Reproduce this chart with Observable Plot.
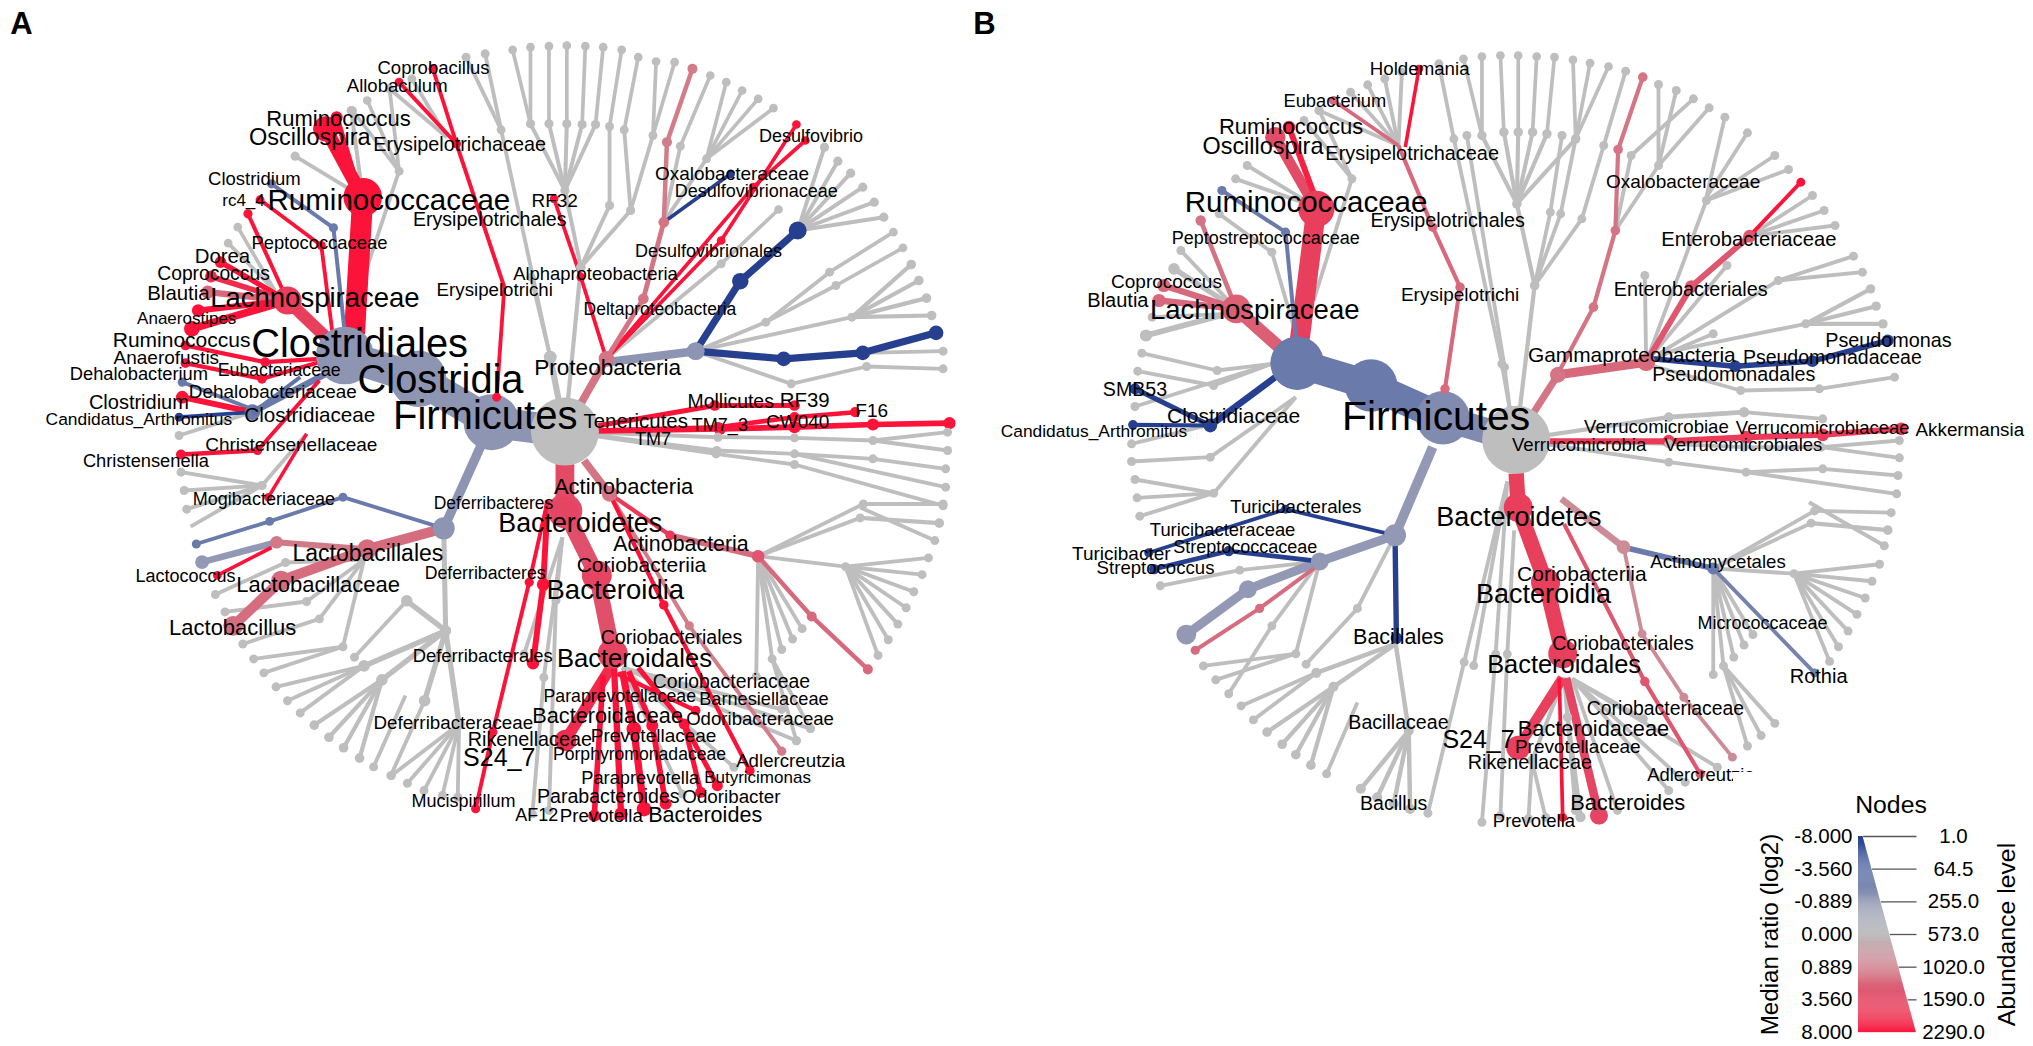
<!DOCTYPE html>
<html><head><meta charset="utf-8">
<style>html,body{margin:0;padding:0;background:#fff;width:2033px;height:1046px;overflow:hidden;font-family:"Liberation Sans",Arial,sans-serif}
#chart{position:absolute;left:0;top:0}#legend{position:absolute;left:1733px;top:772px;background:#fff}</style>
<script src="https://cdn.jsdelivr.net/npm/d3@7"></script>
<script src="https://cdn.jsdelivr.net/npm/@observablehq/plot@0.6"></script>
</head><body><div id="chart"></div><div id="legend"></div>
<script>
// Legend levels
const legendRatio=[-8,-3.56,-0.889,0,0.889,3.56,8];
const ratioText=["-8.000","-3.560","-0.889","0.000","0.889","3.560","8.000"];
const abundText=["1.0","64.5","255.0","573.0","1020.0","1590.0","2290.0"];
const ratioColors=["#26408f","#5f72a8","#959bb5","#bebebe","#d07f8c","#e34b66","#fb1339"];

// Panel A. fans: [abundance, hubX, hubY, [leafX, leafY, ...]]; chains: [ratio, abundance, x,y, x,y ...]; big nodes: [ratio, abundance, x, y]
const fansAUpper=[
[30,885,1293,[862,1070]],[5,862,1070,[785,388,832,830]],[5,785,388,[730,170,760,160]],
[8,885,1293,[910,800]],[6,910,800,[885,570,955,615,988,630]],
[6,885,570,[831,370,860,370,888,370,912,372,933,372]],
[4,831,370,[803,148,831,140]],[4,860,370,[860,137]],[4,888,370,[888,135]],[4,912,372,[917,137]],[4,933,372,[945,140]],
[5,955,615,[955,378]],[4,955,378,[974,148]],[5,988,630,[978,388,1023,405]],[4,978,388,[1000,170]],[4,1023,405,[1028,183,1057,185]],
[5,1040,665,[1066,437,1107,475]],[4,1066,437,[1113,225]],[4,1107,475,[1138,245,1163,270,1188,295,1212,323]],
[5,950,1075,[1130,790]],[4,1130,790,[1220,627]],
[6,1250,690,[1292,440,1313,482,1333,518,1352,560,1370,605,1385,650]],
[5,1090,1052,[1200,965,1335,950,1240,1150]],[5,1200,965,[1300,815,1310,855]],[4,1300,815,[1400,695]],[4,1310,855,[1415,742]],
[8,1335,950,[1428,792,1440,840,1452,893,1460,945]],
[5,1240,1150,[1358,1098]],[5,1352,1057,[1478,1052]],[5,1358,1098,[1478,1105]],
[6,885,1293,[1125,1310,1123,1350,1122,1360]],[5,1125,1310,[1245,1312]],[5,1245,1312,[1368,1320]],[5,1368,1320,[1485,1295,1485,1350]],
[5,1123,1350,[1245,1360]],[5,1245,1360,[1368,1375,1482,1460]],[5,1368,1375,[1482,1405]],[5,1122,1360,[1245,1392]],[5,1245,1392,[1478,1515]],
// upper left greys
[6,568,590,[462,467,550,330]],[5,540,1000,[625,512]],[4,625,512,[575,300,552,330,610,265]],[5,700,410,[645,235,610,265]],
[4,430,870,[372,680,357,728]],
[5,395,1235,[280,1305]],[5,480,1300,[410,1455]],[5,410,1455,[283,1415,288,1470,292,1525]]
];
const fansALower=[
[5,1188,160,[1353,10,1348,50,1325,190,1185,505,1210,455,1225,428,1242,398,1257,368]],
[5,1353,10,[1478,10]],[8,1348,50,[1472,65]],[5,1348,20,[1465,115]],
[5,1325,190,[1455,165,1445,213,1432,262,1420,308,1407,355,1392,400,1376,445]],
[5,1210,455,[1270,655,1248,690]],
[16,695,80,[698,374]],[20,698,374,[570,475,598,515,637,288,665,575,719,642]],
[5,637,288,[555,450]],[5,570,475,[432,535,450,575,470,610]],
[8,598,515,[492,645,515,680,538,710,563,740]],[5,665,575,[612,790]],[5,635,560,[585,765]],
[5,719,642,[613,790,638,812,664,833,693,847,717,852]],
[5,570,170,[537,420,500,340,480,290,447,178]],[5,537,420,[397,455,413,495]],[5,500,340,[380,412]],[5,480,290,[352,320]],[5,447,178,[337,270]],
[5,298,75,[410,-45]],
[5,881,106,[821,441,852,508,871,287]],[5,852,508,[834,900]],[5,871,287,[860,890]],
[5,975,480,[1270,655,1248,690,1225,600,1069,843,1150,766]]
];
const chainsAUpper=[
[-1.3,1500,885,1293,770,1265,655,1135,540,1065],
[8,640,555,1000,568,590],[8,230,568,590,510,385],[8,25,560,560,527,350],
[8,6,950,1075,910,830,868,595],[8,6,950,1075,1130,720,1248,372],[8,6,950,1075,1180,560,1262,420],
[1.4,60,885,1293,950,1075],[1.4,16,950,1075,1008,895,1040,665],[1.1,12,1040,665,1045,425,1085,205],
[-8,6,1040,665,1145,520],
[-1.3,80,950,1085,1090,1052],[-8,50,1090,1052,1160,842,1250,690],[-8,50,1090,1052,1228,1075,1352,1057,1467,997],
[-3,8,540,1000,522,682,425,550],
[8,7,520,990,503,735,407,598],
[4.5,190,540,1065,450,900],[8,8,450,900,388,640],[8,22,450,900,345,785],[6,24,450,900,330,828],[2,35,450,900,325,875],[8,30,450,900,310,930],[8,60,450,900,300,985],
[8,10,500,1075,415,1085,290,1035],[8,10,500,1085,410,1135,290,1088],
[-3.5,8,470,1130,400,1230],[-3,8,400,1230,285,1145],[-3,35,510,1120,395,1235],[8,30,395,1235,285,1190],[-8,7,395,1235,280,1250],
[8,8,500,1140,403,1350],[8,12,403,1350,283,1362],[8,5,480,1300,420,1490],
[8,7,715,430,625,245],[8,7,715,430,678,205],[8,8,790,860,715,430],[8,7,790,860,778,1190],
[8,16,885,1293,1120,1215,1245,1215],[8,13,885,1293,1125,1280,1245,1250,1340,1235],[8,26,885,1293,1128,1285,1245,1280,1368,1272,1488,1268],
[-1.3,100,770,1265,695,1580],
[3.7,500,885,1293,885,1530],[1.4,60,915,1380,955,1480],[5,10,955,1480,1050,1600],[1.8,30,1050,1600,1188,1660],
[8,30,858,1500,851,1741,835,1967],[8,8,858,1500,829,1735,772,2165,745,2385]
];
const chainsALower=[
[1.8,120,695,80,575,140,440,230,365,360],
[-3,7,695,80,537,-10,422,60,307,125],
[1.2,30,575,140,433,120],[-1,40,433,120,316,177],[8,6,425,135,340,215],
[3.3,350,885,30,935,215,960,440],
[2,12,1188,160,1272,333,1360,485],
[1.0,8,955,-20,1080,360,1225,720],[8,10,955,-20,1040,300,1175,776],
[6,150,960,470,886,689],[8,25,945,500,931,905],[8,35,962,480,973,900],[8,50,975,490,993,656,1009,886],[8,25,985,490,1022,646,1043,871],[8,18,1000,480,1072,642,1098,838],[8,18,1072,642,1124,819],[8,10,967,498,1090,603]
];
const nodesA=[[0,2290,885,1293],[-1.3,1250,770,1265],[-1.3,1500,655,1135],[-1.3,1600,540,1065],
[8,562,568,590],[8,200,510,385],[5,300,450,900],[-1.3,90,1090,1052],[-8,90,1250,690],[-8,70,1160,842],
[-1.3,160,695,1580],[4,280,885,1530],[4,320,935,1715],[4,330,960,1940],[6,120,886,2189],[3,25,1188,1660],[-3,60,395,1235]];
const labelsAUpper=[["Coprobacillus",679,202,18.5],["Allobaculum",622,258,18.5],["Ruminococcus",530,355,22],["Oscillospira",485,412,23.5],["Erysipelotrichaceae",720,432,19.8],["Desulfovibrio",1271,408,18],["Oxalobacteraceae",1147,521,19],["Desulfovibrionaceae",1185,573,18],["Clostridium",398,537,18.5],["rc4_4",381,601,17],["Ruminococcaceae",609,600,29.5],["RF32",869,602,19],["Erysipelotrichales",767,658,19.6],["Peptococcaceae",500,728,18.4],["Desulfovibrionales",1110,752,18],["Dorea",348,768,20.4],["Coprococcus",334,820,19.3],["Alphaproteobacteria",933,820,18.4],["Erysipelotrichi",775,870,18.7],["Blautia",279,878,20.4],["Lachnospiraceae",493,893,27.5],["Deltaproteobacteria",1034,928,17.5],["Anaerostipes",292,955,17],["Ruminococcus",284,1020,21],["Clostridiales",563,1032,39.8],["Anaerofustis",260,1072,19],["Proteobacteria",952,1103,22.6],["Dehalobacterium",217,1120,18.3],["Eubacteriaceae",437,1110,17.7],["Clostridia",690,1138,39.8],["Dehalobacteriaceae",427,1173,18.9],["Clostridium",217,1205,20],["Mollicutes",1145,1205,19.4],["RF39",1261,1200,20.4],["F16",1366,1230,19],["Firmicutes",760,1248,40],["Tenericutes",996,1262,20.4],["Clostridiaceae",485,1245,20.7],["Candidatus_Arthromitus",217,1257,17.4],["TM7_3",1128,1275,18],["CW040",1250,1265,19],["TM7",1023,1315,18],["Christensenellaceae",456,1333,19],["Christensenella",228,1381,18.3],["Actinobacteria",977,1458,22],["Mogibacteriaceae",413,1497,18],["Deferribacteres",773,1508,17.5]];
const labelsALower=[["Bacteroidetes",909,65,26.8],["Actinobacteria",1067,125,21.4],["Lactobacillales",576,153,23],["Coriobacteriia",1005,187,21],["Deferribacteres",760,210,17.7],["Lactococcus",290,218,18],["Lactobacillaceae",498,243,22],["Bacteroidia",964,258,27.5],["Lactobacillus",364,367,22],["Coriobacteriales",1052,393,19.6],["Deferribacterales",756,448,18.4],["Bacteroidales",994,455,25.6],["Coriobacteriaceae",1146,520,19.4],["Paraprevotellaceae",971,562,17.7],["Barnesiellaceae",1197,571,18.2],["Bacteroidaceae",952,618,21.7],["Odoribacteraceae",1191,627,18.6],["Deferribacteraceae",710,640,18.8],["Prevotellaceae",1024,675,19],["Rikenellaceae",830,687,19.8],["Porphyromonadaceae",1002,730,17.6],["S24_7",782,740,25],["Adlercreutzia",1239,748,18.7],["Butyricimonas",1187,795,17],["Paraprevotella",1003,798,18.3],["Parabacteroides",953,850,19.6],["Odoribacter",1146,850,18.8],["Mucispirillum",726,865,18],["AF12",841,905,18],["Prevotella",942,905,18.7],["Bacteroides",1105,903,21.6]];

// Panel B
const fansBUpper=[
[8,812,1290,[803,1230]],[5,803,1230,[791,1090,795,1100]],[5,791,1090,[721,415]],[5,795,1100,[740,405]],[5,721,415,[699,190]],
[8,812,1318,[839,855]],[8,839,855,[813,610]],
[7,813,610,[762,405,794,395,815,395,836,395,857,400,899,415]],
[4,762,405,[735,175,762,168]],[4,794,395,[789,165]],[4,815,395,[815,165]],[4,836,395,[842,168]],[4,857,400,[868,170]],[4,899,415,[895,178,920,188,947,198]],
[5,839,855,[862,635,877,640,908,655]],[5,862,635,[879,405]],[5,877,640,[899,415]],[5,908,655,[940,435]],[5,940,435,[972,212]],
[5,957,690,[1020,495,980,465]],[5,1020,495,[1046,270,1020,252]],[5,980,465,[1071,295]],[5,1020,495,[1094,322]],[5,1090,590,[1117,350,1150,397]],
[5,1002,1085,[1100,1000,1120,795,1000,825,1090,600]],[5,1090,600,[1190,465,1210,507]],
[5,1153,707,[1245,585,1262,630,1278,675]],
[5,1020,1060,[1195,840,1235,970]],[5,1195,840,[1305,767,1318,815]],[7,1235,970,[1330,865,1338,917,1348,970]],
[5,1010,1095,[1140,1170]],[5,1140,1170,[1255,1165]],[5,1255,1165,[1365,1130]],
[8,812,1318,[1035,1250]],[12,1035,1250,[1145,1235]],[5,1145,1235,[1260,1255]],
[5,812,1318,[1035,1330,1035,1385]],[5,1035,1330,[1145,1340]],[5,1145,1340,[1258,1340]],[5,1258,1340,[1372,1320,1372,1372]],
[5,1035,1385,[1148,1415]],[5,1148,1415,[1260,1405,1368,1480]],[5,1260,1405,[1370,1425]],
// Erysipelotrichaceae fan and Ruminococcaceae greys
[5,640,435,[524,330,570,275,595,253,620,235,645,215]],
[5,520,620,[419,495,402,535]],[5,572,535,[524,330,502,360]],[5,516,900,[572,535]],[5,490,1000,[455,755]],[5,455,755,[378,640]],
[5,403,925,[322,750]],[20,403,925,[312,805]],[5,390,940,[280,950]],[24,390,940,[271,1005]],
[5,455,1090,[375,1110,370,1155,255,1218]],[5,375,1110,[265,1058]],[5,370,1155,[259,1112]],
[5,490,1190,[370,1478,365,1370]],[5,365,1370,[250,1383]],[5,370,1478,[255,1437,258,1492,262,1545]],[5,360,1275,[250,1330]]
];
const fansBLower=[
[5,1100,195,[1218,210,1248,30,1243,65,1100,500,1115,475,1130,450,1145,415,1158,385]],
[5,1248,30,[1360,35]],[8,1243,65,[1355,85]],[5,1240,5,[1350,130]],
[5,1218,210,[1343,183,1332,232,1322,280,1310,327,1297,375,1283,420,1270,462]],
[5,1115,475,[1190,640,1170,675,1150,705]],
[5,635,100,[580,310]],[5,580,310,[505,470]],
[5,525,175,[490,440,455,360,408,200]],[5,490,440,[355,475,373,515]],[5,455,360,[392,555]],[5,408,200,[292,245]],
[10,636,412,[520,495,545,535,655,661]],[5,520,495,[410,590,428,630]],[8,545,535,[448,665,470,700,490,730,512,760]],[5,580,580,[535,785]],
[10,655,661,[585,828,609,852,633,871,657,886]],
[5,799,-57,[736,464,750,474,782,441]],[5,736,464,[683,898]],[5,782,441,[762,924]],
[5,809,86,[799,441]],[5,799,441,[789,905]],
[7,882,508,[835,747,887,622]],[5,835,747,[830,914,855,910]],[7,887,622,[899,890]],[12,887,622,[906,909]],
[5,894,512,[960,890,1035,833,998,627,1059,809,1106,766]]
];
const chainsBUpper=[
[-1.9,1000,812,1318,705,1252],[-3,1300,705,1252,600,1155,492,1088],
[4.5,560,495,1030,520,625],[3.5,130,520,625,460,410],[7,30,520,600,480,380],
[2.5,210,492,1088,403,925],[2,35,403,925,297,855],[2,35,403,925,290,900],[1.5,14,403,925,351,660],
[-3,8,490,1010,475,695,382,570],
[2,7,640,435,545,300],[8,5,650,440,670,205],[2,9,640,435,690,680,730,860,708,1165],
[-8,40,460,1130,365,1275],[-8,18,365,1275,255,1165],[-8,10,365,1275,252,1273],
[1.4,50,812,1318,873,1123],[2,90,873,1123,1002,1085],[3,30,1002,1085,1068,858,1153,707],[8,7,1153,707,1228,545],
[1.4,10,873,1120,925,920,957,690,961,447,997,230],
[-8,24,1010,1075,1132,1097,1245,1082,1355,1020],
[5,30,850,1322,1035,1322,1148,1310,1260,1303,1375,1285],
[-1,110,690,1340,635,1600]
];
const chainsBLower=[
[4.5,320,812,-82,815,20,855,235,880,440],
[4.5,120,880,510,815,710],[4,80,885,510,933,905],[8,6,875,510,880,910],
[0.7,40,878,-5,969,134],[-3,25,969,134,1100,195],[-2.5,7,1100,195,1248,495],
[0.7,7,882,0,969,134,996,383,1057,565,1128,737],[3,9,882,67,1000,520,1081,785],
[-1,90,635,100,525,175,420,255,330,385],[1.8,8,520,190,437,310,343,430],
[-8,7,635,100,475,25,275,150],[-8,14,525,175,392,145,283,197],[-8,22,635,100,637,395]
];
const nodesB=[[0,2290,812,1318],[-1.9,1350,705,1252],[-3,1150,600,1155],[-3,1350,492,1088],
[4.5,430,520,625],[2.5,320,403,925],[2,60,873,1123],[-1,160,635,1600],[4.5,310,855,1735],[4.5,135,880,1940],[4.5,200,815,2210],[4,90,933,2405],[-1,120,330,1885]];
const labelsBUpper=[["Holdemania",671,205,18.7],["Eubacterium",547,303,18.3],["Ruminococcus",483,380,22],["Oscillospira",442,438,23.4],["Erysipelotrichaceae",660,458,19.9],["Oxalobacteraceae",1056,545,19],["Ruminococcaceae",505,605,29.5],["Erysipelotrichales",712,662,19.7],["Peptostreptococcaceae",446,713,18],["Enterobacteriaceae",1152,717,20.2],["Coprococcus",301,843,19],["Enterobacteriales",1067,867,19.8],["Erysipelotrichi",730,883,19],["Blautia",230,900,20],["Lachnospiraceae",430,928,27.5],["Pseudomonas",1356,1020,19.8],["Gammaproteobacteria",981,1063,20.9],["Pseudomonadaceae",1274,1072,19.5],["Pseudomonadales",1130,1123,19.7],["SMB53",255,1167,19.6],["Firmicutes",695,1248,40.8],["Clostridiaceae",399,1248,21],["Verrucomicrobiae",1017,1280,18.6],["Verrucomicrobiaceae",1260,1283,18.5],["Akkermansia",1475,1287,18.8],["Candidatus_Arthromitus",195,1293,17.4],["Verrucomicrobia",904,1333,18.6],["Verrucomicrobiales",1144,1333,18.6],["Turicibacterales",490,1520,18.7]];
const labelsBLower=[["Bacteroidetes",816,47,27],["Turicibacteraceae",383,85,18.4],["Streptococcaceae",416,133,18],["Turicibacter",235,152,19],["Actinomycetales",1107,177,18.6],["Streptococcus",285,195,18.6],["Coriobacteriia",908,211,21],["Bacteroidia",852,270,27],["Micrococcaceae",1172,353,18],["Bacillales",640,393,21.5],["Coriobacteriales",968,412,19.6],["Bacteroidales",882,473,25.4],["Rothia",1254,505,20],["Coriobacteriaceae",1030,597,19.4],["Bacillaceae",640,637,19.6],["Bacteroidaceae",925,655,21.8],["S24_7",757,687,25],["Prevotellaceae",902,707,19],["Rikenellaceae",832,753,19.8],["Adlercreutzia",1082,790,18.4],["Bacillus",633,870,19.5],["Bacteroides",975,868,21.8],["Prevotella",838,920,18.5]];

// table building (reading units of each panel converted to figure pixels)
const panelA={sx:1000/1568,ox:0},panelB={sx:1073/1568,ox:960};
const edges=[],nodes=[],labels=[];
const figY=y=>y<=1500?y/3:500+(y-1500)*546/1568;
function addFans(fans,p,yo){for(const [a,hx,hy,l] of fans){const X=x=>p.ox+x*p.sx,Y=y=>figY(y+yo);
 for(let i=0;i<l.length;i+=2){edges.push({x1:X(hx),y1:Y(hy),x2:X(l[i]),y2:Y(l[i+1]),ratio:0,abund:a+2});nodes.push({x:X(l[i]),y:Y(l[i+1]),ratio:0,abund:a+2});}}}
function addChains(ch,p,yo){for(const c of ch){const [r,a]=c,X=x=>p.ox+x*p.sx,Y=y=>figY(y+yo);
 for(let i=2;i+3<c.length;i+=2){edges.push({x1:X(c[i]),y1:Y(c[i+1]),x2:X(c[i+2]),y2:Y(c[i+3]),ratio:r,abund:a});nodes.push({x:X(c[i+2]),y:Y(c[i+3]),ratio:r,abund:a});}}}
function addNodes(ns,p){for(const [r,a,x,y] of ns)nodes.push({x:p.ox+x*p.sx,y:figY(y),ratio:r,abund:a});}
function addLabels(ls,p,yo){for(const [t,x,y,s] of ls)labels.push({t,x:p.ox+x*p.sx,y:figY(y+yo),s});}
addFans(fansAUpper,panelA,0);addFans(fansALower,panelA,1500);addFans(fansBUpper,panelB,0);addFans(fansBLower,panelB,1500);
addChains(chainsAUpper,panelA,0);addChains(chainsALower,panelA,1500);addChains(chainsBUpper,panelB,0);addChains(chainsBLower,panelB,1500);
addNodes(nodesA,panelA);addNodes(nodesB,panelB);
addLabels(labelsAUpper,panelA,0);addLabels(labelsALower,panelA,1500);addLabels(labelsBUpper,panelB,0);addLabels(labelsBLower,panelB,1500);

const edgeWidth=d3.scaleSqrt().domain([1,2290]).range([2.6,38]);
const colorOpt={type:"linear",domain:legendRatio,range:ratioColors,interpolate:"rgb"};
const font='"Liberation Sans",Arial,sans-serif';
const letters=[{t:"A",x:21,y:24},{t:"B",x:984,y:24}];
const order=(a,b)=>(a.ratio!==0)-(b.ratio!==0);
const chart=Plot.plot({width:2033,height:1046,margin:0,style:{background:"transparent",fontFamily:font},
 x:{domain:[0,2033],range:[0,2033],axis:null},y:{domain:[0,1046],range:[0,1046],axis:null},
 color:colorOpt,r:{type:"sqrt",domain:[1,2290],range:[3.4,34],clamp:true},
 marks:[
  Plot.link(edges.slice().sort(order),{x1:"x1",y1:"y1",x2:"x2",y2:"y2",stroke:"ratio",strokeWidth:d=>edgeWidth(d.abund),strokeLinecap:"butt"}),
  Plot.dot(nodes.slice().sort(order),{x:"x",y:"y",r:"abund",fill:"ratio",stroke:null}),
  Plot.text(labels,{x:"x",y:"y",text:"t",fontSize:"s",fill:"black",fontFamily:font}),
  Plot.text(letters,{x:"x",y:"y",text:"t",fontSize:31,fontWeight:"bold",fill:"black",fontFamily:font})
 ]});
document.getElementById("chart").append(chart);

// Legend: level 0..6 downward; wedge width grows with level
const levels=d3.range(7);
const ramp=d3.range(0,6,0.03).map(t=>({t,r:d3.scaleLinear(levels,legendRatio)(t)}));
const wedge=t=>0.08+0.92*t/6;
const ticks=levels.map(i=>({i,ratio:ratioText[i],abund:abundText[i]}));
const lw=300,lh=274,wx=[125,183],wy=[64,260];
const legend=Plot.plot({width:lw,height:lh,margin:0,style:{background:"#fff",fontFamily:font},
 x:{domain:[0,1],range:wx,axis:null},y:{domain:[0,6],range:wy,axis:null},color:colorOpt,
 marks:[
  Plot.rect(ramp,{x1:()=>0,x2:d=>wedge(d.t),y1:"t",y2:d=>d.t+0.035,fill:"r"}),
  Plot.link(ticks,{x1:d=>wedge(d.i),x2:()=>1,y1:"i",y2:"i",stroke:"#555",strokeWidth:1.3}),
  Plot.text(ticks,{x:()=>0,y:"i",text:"ratio",textAnchor:"end",dx:-6,fontSize:20.5,fill:"black",fontFamily:font}),
  Plot.text(ticks,{x:()=>1,y:"i",text:"abund",textAnchor:"middle",dx:37,fontSize:20.5,fill:"black",fontFamily:font}),
  Plot.text(["Nodes"],{x:()=>0.56,y:()=>-0.95,text:d=>d,fontSize:24.8,fill:"black",fontFamily:font}),
  Plot.text(["Median ratio (log2)"],{x:()=>-1.52,y:()=>3,text:d=>d,rotate:-90,fontSize:24.2,fill:"black",fontFamily:font}),
  Plot.text(["Abundance level"],{x:()=>2.57,y:()=>3,text:d=>d,rotate:-90,fontSize:24.8,fill:"black",fontFamily:font})
 ]});
document.getElementById("legend").append(legend);
</script></body></html>
